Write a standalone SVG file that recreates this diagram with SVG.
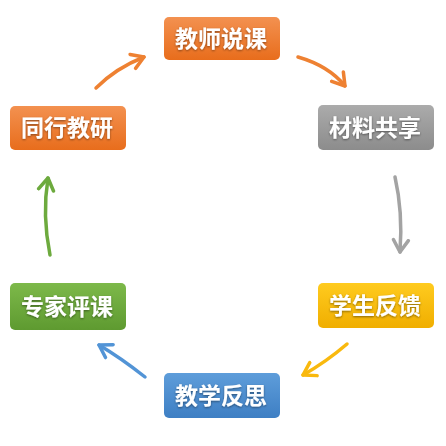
<svg xmlns="http://www.w3.org/2000/svg" width="446" height="446" viewBox="0 0 446 446">
<defs>
<linearGradient id="gOrange" x1="0" y1="0" x2="0" y2="1"><stop offset="0" stop-color="#F39150"/><stop offset="1" stop-color="#E86D1C"/></linearGradient>
<linearGradient id="gGray" x1="0" y1="0" x2="0" y2="1"><stop offset="0" stop-color="#ABABAB"/><stop offset="1" stop-color="#8C8C8C"/></linearGradient>
<linearGradient id="gGreen" x1="0" y1="0" x2="0" y2="1"><stop offset="0" stop-color="#7DB94A"/><stop offset="1" stop-color="#5E9A30"/></linearGradient>
<linearGradient id="gYellow" x1="0" y1="0" x2="0" y2="1"><stop offset="0" stop-color="#FFCB1F"/><stop offset="1" stop-color="#F0AE00"/></linearGradient>
<linearGradient id="gBlue" x1="0" y1="0" x2="0" y2="1"><stop offset="0" stop-color="#5E9DDA"/><stop offset="1" stop-color="#3E7FC4"/></linearGradient>
<filter id="ts" x="-10%" y="-20%" width="120%" height="140%"><feDropShadow dx="0" dy="1" stdDeviation="0.8" flood-color="#000" flood-opacity="0.45"/></filter>
<marker id="mOrange" viewBox="-14 -10 17 20" refX="0" refY="0" markerWidth="17" markerHeight="20" markerUnits="userSpaceOnUse" orient="auto"><path d="M-12,-7.5 L0,0 L-12,7.5" fill="none" stroke="#EE8132" stroke-width="3.5" stroke-linecap="round" stroke-linejoin="round"/></marker>
<marker id="mGray" viewBox="-14 -10 17 20" refX="0" refY="0" markerWidth="17" markerHeight="20" markerUnits="userSpaceOnUse" orient="auto"><path d="M-12,-7.5 L0,0 L-12,7.5" fill="none" stroke="#A3A3A3" stroke-width="3.5" stroke-linecap="round" stroke-linejoin="round"/></marker>
<marker id="mYellow" viewBox="-14 -10 17 20" refX="0" refY="0" markerWidth="17" markerHeight="20" markerUnits="userSpaceOnUse" orient="auto"><path d="M-12,-7.5 L0,0 L-12,7.5" fill="none" stroke="#F9B90E" stroke-width="3.5" stroke-linecap="round" stroke-linejoin="round"/></marker>
<marker id="mBlue" viewBox="-14 -10 17 20" refX="0" refY="0" markerWidth="17" markerHeight="20" markerUnits="userSpaceOnUse" orient="auto"><path d="M-12,-7.5 L0,0 L-12,7.5" fill="none" stroke="#5294D6" stroke-width="3.5" stroke-linecap="round" stroke-linejoin="round"/></marker>
<marker id="mGreen" viewBox="-14 -10 17 20" refX="0" refY="0" markerWidth="17" markerHeight="20" markerUnits="userSpaceOnUse" orient="auto"><path d="M-12,-7.5 L0,0 L-12,7.5" fill="none" stroke="#6DAA3E" stroke-width="3.5" stroke-linecap="round" stroke-linejoin="round"/></marker>
</defs>
<style>
.box{rx:5;ry:5}
.lbl{font-family:"Noto Sans CJK SC","Noto Sans",sans-serif;font-weight:bold;font-size:23px;fill:#fff;text-anchor:middle;dominant-baseline:central;filter:url(#ts)}
.arr{fill:none;stroke-width:3.5;stroke-linecap:round}
</style>
<g id="connectors">
<path class="arr" d="M96,88 Q116,68 144,57" stroke="#EE8132" marker-end="url(#mOrange)"/>
<path class="arr" d="M298,57 Q329,66 345,86" stroke="#EE8132" marker-end="url(#mOrange)"/>
<path class="arr" d="M395,177 Q403,212 400,252" stroke="#A3A3A3" marker-end="url(#mGray)"/>
<path class="arr" d="M347,344 Q326,362 303,375" stroke="#F9B90E" marker-end="url(#mYellow)"/>
<path class="arr" d="M145,377 Q121,358 99,345" stroke="#5294D6" marker-end="url(#mBlue)"/>
<path class="arr" d="M50,255 Q42,215 48,178" stroke="#6DAA3E" marker-end="url(#mGreen)"/>
</g>
<g id="n1"><rect class="box" x="164" y="17" width="116" height="43" fill="url(#gOrange)"/><text class="lbl" x="221" y="37">教师说课</text></g>
<g id="n2"><rect class="box" x="318" y="105" width="116" height="45" fill="url(#gGray)"/><text class="lbl" x="375" y="126">材料共享</text></g>
<g id="n3"><rect class="box" x="318" y="283" width="116" height="45" fill="url(#gYellow)"/><text class="lbl" x="375" y="304">学生反馈</text></g>
<g id="n4"><rect class="box" x="164" y="373" width="116" height="45" fill="url(#gBlue)"/><text class="lbl" x="221" y="394">教学反思</text></g>
<g id="n5"><rect class="box" x="10" y="283" width="116" height="47" fill="url(#gGreen)"/><text class="lbl" x="67" y="305">专家评课</text></g>
<g id="n6"><rect class="box" x="10" y="106" width="116" height="44" fill="url(#gOrange)"/><text class="lbl" x="67" y="126">同行教研</text></g>
</svg>
